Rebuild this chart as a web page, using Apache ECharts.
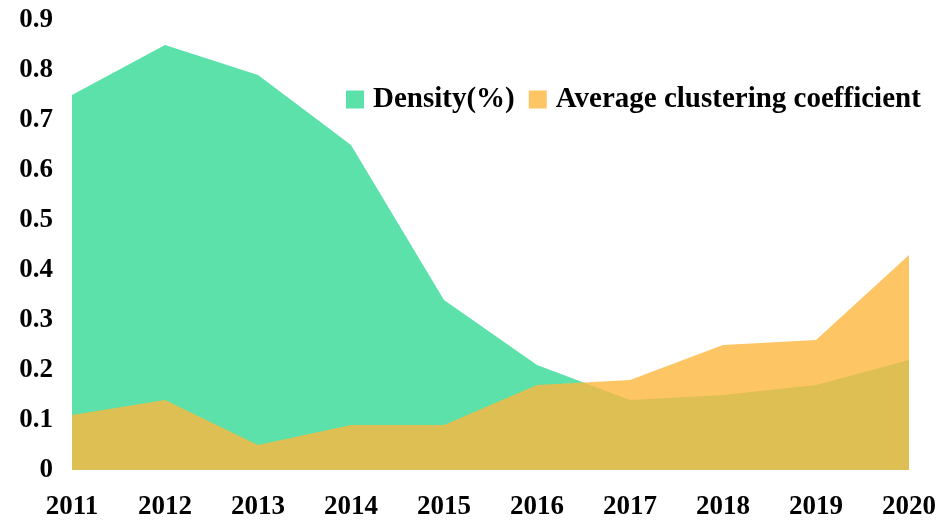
<!DOCTYPE html>
<html>
<head>
<meta charset="utf-8">
<script src="https://cdn.jsdelivr.net/npm/echarts@6/dist/echarts.min.js"></script>
<style>
    html, body { margin: 0; padding: 0; background: #fff; }
    #chart { width: 947px; height: 522px; }
</style>
</head>
<body>
<div id="chart"></div>
<script>
    const years = ['2011', '2012', '2013', '2014', '2015', '2016', '2017', '2018', '2019', '2020'];
    const density = [0.75, 0.85, 0.79, 0.65, 0.34, 0.21, 0.14, 0.15, 0.17, 0.22];
    const avgClustering = [0.11, 0.14, 0.05, 0.09, 0.09, 0.17, 0.18, 0.25, 0.26, 0.43];

    var chart = echarts.init(document.getElementById('chart'));

    const labelFont = {
        color: '#000',
        fontFamily: 'Liberation Serif',
        fontWeight: 'bold'
    };

    var option = {
        backgroundColor: '#fff',
        animation: false,
        legend: {
            data: ['Density(%)', 'Average clustering coefficient'],
            left: 341,
            top: 80,
            icon: 'rect',
            itemWidth: 18,
            itemHeight: 18,
            itemGap: 14,
            textStyle: {
                color: '#000',
                fontFamily: 'Liberation Serif',
                fontWeight: 'bold',
                fontSize: 29,
                padding: [0, 0, 0, 4]
            }
        },
        grid: { left: 72, right: 38, top: 20, bottom: 52 },
        xAxis: {
            type: 'category',
            data: years,
            boundaryGap: false,
            axisLine: { show: false },
            axisTick: { show: false },
            splitLine: { show: false },
            axisLabel: Object.assign({ margin: 24, fontSize: 27 }, labelFont)
        },
        yAxis: {
            type: 'value',
            min: 0,
            max: 0.9,
            interval: 0.1,
            axisLine: { show: false },
            axisTick: { show: false },
            splitLine: { show: false },
            axisLabel: Object.assign({ margin: 19, fontSize: 27 }, labelFont)
        },
        series: [
            {
                name: 'Density(%)',
                type: 'line',
                data: density,
                symbol: 'none',
                lineStyle: { width: 0 },
                itemStyle: { color: '#5ce1aa' },
                areaStyle: { color: '#5ce1aa', opacity: 1 }
            },
            {
                name: 'Average clustering coefficient',
                type: 'line',
                data: avgClustering,
                symbol: 'none',
                lineStyle: { width: 0 },
                itemStyle: { color: '#fec564' },
                areaStyle: { color: '#feb73d', opacity: 0.8 }
            }
        ]
    };

    chart.setOption(option);

    window.onresize = function () {
        chart.resize();
    };
</script>
</body>
</html>
